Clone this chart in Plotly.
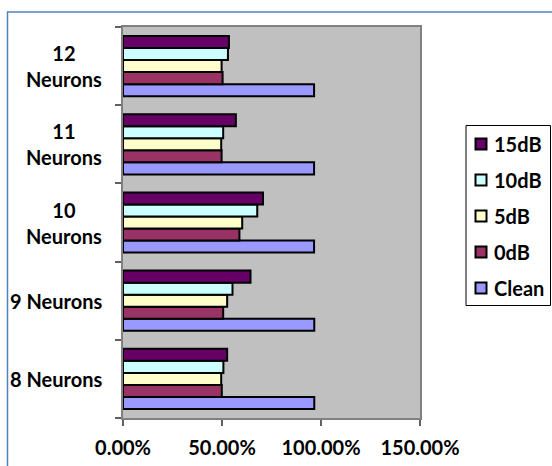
import plotly.graph_objects as go

# Recognition accuracy per network size and noise condition
categories = ["8 Neurons", "9 Neurons", "10 Neurons", "11 Neurons", "12 Neurons"]
category_labels = ["8 Neurons", "9 Neurons", "10<br>Neurons", "11<br>Neurons", "12<br>Neurons"]
series_names = ["Clean", "0dB", "5dB", "10dB", "15dB"]
clean = [0.966, 0.966, 0.965, 0.965, 0.965]
db0 = [0.499, 0.506, 0.588, 0.498, 0.503]
db5 = [0.496, 0.526, 0.602, 0.496, 0.498]
db10 = [0.507, 0.553, 0.678, 0.506, 0.530]
db15 = [0.526, 0.644, 0.707, 0.570, 0.535]
series_values = [clean, db0, db5, db10, db15]
colors = ["#9999FF", "#993366", "#FFFFCC", "#CCFFFF", "#660066"]
x_ticks = [0, 0.5, 1.0, 1.5]

FONT = "Lato, 'Open Sans', sans-serif"
FSIZE = 20

W, H = 552, 466
ml, mr, mt, mb = 123, 132, 27, 48
pw, ph = W - ml - mr, H - mt - mb


def px_x(px):
    return (px - ml) / pw


def px_y(py):
    return (H - mb - py) / ph


fig = go.Figure()
for name, vals, col in zip(series_names, series_values, colors):
    fig.add_trace(go.Bar(
        y=categories, x=vals, name=name, orientation="h",
        marker=dict(color=col, line=dict(color="black", width=2)),
        showlegend=False,
    ))

shapes = [dict(
    type="rect", xref="paper", yref="paper",
    x0=px_x(7.5), x1=px_x(600), y0=px_y(12), y1=px_y(520),
    line=dict(color="#4F81BD", width=1.5), layer="below",
)]
annotations = []

# Category labels, centred on each group
for cat, lab in zip(categories, category_labels):
    annotations.append(dict(
        xref="paper", yref="y", x=px_x(104), y=cat,
        xanchor="right", yanchor="middle", align="center",
        text=lab, showarrow=False,
        font=dict(family=FONT, size=FSIZE, color="black", weight="bold"),
    ))

# Legend: boxed list, 15dB at the top down to Clean
shapes.append(dict(
    type="rect", xref="paper", yref="paper",
    x0=px_x(466), x1=px_x(550.5), y0=px_y(125.5), y1=px_y(305.5),
    line=dict(color="black", width=1), fillcolor="white",
))
legend_y = [288, 252, 216, 180, 144]
for name, col, cy in zip(series_names, colors, legend_y):
    shapes.append(dict(
        type="rect", xref="paper", yref="paper",
        x0=px_x(475.5), x1=px_x(486.5), y0=px_y(cy - 5.5), y1=px_y(cy + 5.5),
        line=dict(color="black", width=2), fillcolor=col,
    ))
    annotations.append(dict(
        xref="paper", yref="paper", x=px_x(492), y=px_y(cy),
        xanchor="left", yanchor="middle", text=name, showarrow=False,
        font=dict(family=FONT, size=FSIZE, color="black", weight="bold"),
    ))

fig.update_layout(
    width=W, height=H,
    margin=dict(l=ml, r=mr, t=mt, b=mb, pad=0, autoexpand=False),
    paper_bgcolor="white",
    plot_bgcolor="#C0C0C0",
    barmode="group",
    bargap=0.23,
    bargroupgap=0,
    font=dict(family=FONT, size=FSIZE, color="black", weight="bold"),
    showlegend=False,
    xaxis=dict(
        range=[0, 1.5], tickvals=x_ticks, tickformat=".2%",
        showgrid=False, zeroline=False, automargin=False,
        showline=True, linecolor="#808080", linewidth=2, mirror=True,
        ticks="outside", ticklen=6, tickcolor="#606060", tickwidth=1.5,
        ticklabelstandoff=5,
    ),
    yaxis=dict(
        type="category", categoryorder="array", categoryarray=categories,
        tickson="boundaries", showticklabels=False, automargin=False,
        showgrid=False, zeroline=False,
        showline=True, linecolor="#808080", linewidth=2, mirror=True,
        ticks="outside", ticklen=6, tickcolor="#606060", tickwidth=1.5,
    ),
    shapes=shapes,
    annotations=annotations,
)

fig.write_html("out.html")
